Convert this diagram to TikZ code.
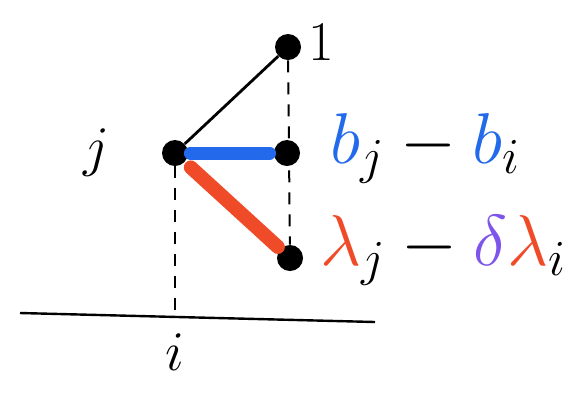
\RequirePackage{fix-cm}
\documentclass[tikz,border=0pt]{standalone}
\usetikzlibrary{positioning}
\definecolor{blu}{RGB}{35,105,235}
\definecolor{rosso}{RGB}{240,75,40}
\definecolor{viola}{RGB}{125,85,235}
\tikzset{
  punto/.style={circle,fill=black,inner sep=0pt,minimum size=13pt},
  etichetta/.style={inner sep=0pt,font=\fontsize{28}{32}\selectfont},
  grande/.style={inner sep=0pt,font=\fontsize{36}{40}\selectfont},
  tratteggio/.style={line width=1pt,dash pattern=on 6pt off 5pt}
}
\begin{document}
\begin{tikzpicture}[x=0.5pt,y=-0.5pt]
  \useasboundingbox (0,0) rectangle (576,393);
  %punti
  \node[punto] (uno) at (288,47) {};
  \node[punto] (pj) at (175,153) {};
  \node[punto] (pb) at (287,153) {};
  \node[punto] (pl) at (290,258) {};
  %asse
  \coordinate (asx) at (20,313);
  \coordinate (adx) at (375,322);
  \coordinate (piede) at (175,316);
  \draw[line width=1.2pt] (asx) -- (adx);
  %segmenti
  \draw[line width=1.4pt] (pj) -- (uno);
  \draw[blu,line width=6.5pt,line cap=round,shorten <=1pt,shorten >=2pt] (pj) -- (pb);
  \draw[rosso,line width=7pt,line cap=round,shorten <=4pt,shorten >=1.5pt] (pj) -- (pl);
  %tratteggi
  \draw[tratteggio] (uno) -- (pl);
  \draw[tratteggio] (pj) -- (piede);
  %etichette
  \node[etichetta,anchor=base west] (l1) at (308,60) {$1$};
  \node[etichetta,anchor=base east] (lj) at (110,165) {$j$};
  \node[etichetta,anchor=base] (li) at (175,370) {$i$};
  \node[grande,anchor=base west] (lb) at (330,163) {${\color{blu}b}_j-{\color{blu}b}_i$};
  \node[grande,anchor=base west] (llam) at (320,265) {${\color{rosso}\lambda}_j-{\color{viola}\delta}{\color{rosso}\lambda}_i$};
\end{tikzpicture}
\end{document}
